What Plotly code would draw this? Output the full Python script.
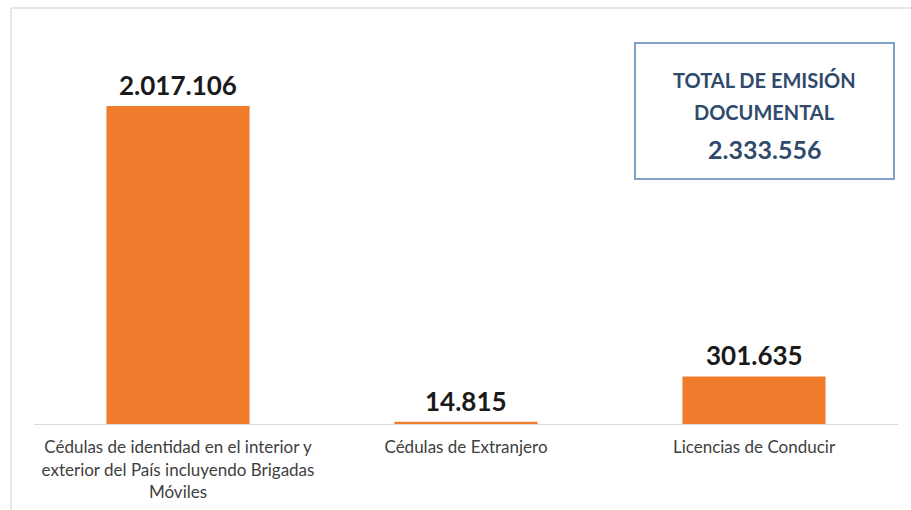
import plotly.graph_objects as go

categories = [
    "Cédulas de identidad en el interior y exterior del País incluyendo Brigadas Móviles",
    "Cédulas de Extranjero",
    "Licencias de Conducir",
]
tick_labels = [
    "Cédulas de identidad en el interior y<br>exterior del País incluyendo Brigadas<br>Móviles",
    "Cédulas de Extranjero",
    "Licencias de Conducir",
]
values = [2017106, 14815, 301635]
total_title = ["TOTAL DE EMISIÓN", "DOCUMENTAL"]
total_value = 2333556

W, H = 911, 510
L, R, T, B = 34, 13, 30, 86

def fmt(v):
    return f"{v:,}".replace(",", ".")

fig = go.Figure()
fig.add_trace(go.Bar(
    x=categories, y=values,
    marker=dict(color="#F07D2E", line=dict(width=0)),
    width=0.497,
    hoverinfo="skip",
))

for c, v in zip(categories, values):
    fig.add_annotation(
        x=c, y=v, xref="x", yref="y", text=f"<b>{fmt(v)}</b>",
        showarrow=False, yanchor="bottom", yshift=3,
        font=dict(family="Lato, Open Sans, sans-serif", size=26, color="#1a1a1a"),
    )

pw = W - L - R
ph = H - T - B
def px_x(x):
    return (x - L) / pw
def px_y(y):
    return (H - B - y) / ph

# outer faint frame
fig.add_shape(type="line", xref="paper", yref="paper",
              x0=px_x(11), x1=px_x(11), y0=px_y(510), y1=px_y(8),
              line=dict(color="#e6e6e6", width=2))
fig.add_shape(type="line", xref="paper", yref="paper",
              x0=px_x(11), x1=px_x(911), y0=px_y(8), y1=px_y(8),
              line=dict(color="#e6e6e6", width=2))

# total box
fig.add_shape(type="rect", xref="paper", yref="paper",
              x0=px_x(635), x1=px_x(894), y0=px_y(179), y1=px_y(43),
              line=dict(color="#7fa0c8", width=2), fillcolor="rgba(0,0,0,0)")
box_color = "#2f4a6b"
for txt, yy, sz in [(total_title[0], 80, 20), (total_title[1], 112, 20), (fmt(total_value), 149, 25)]:
    fig.add_annotation(x=px_x(764.5), y=px_y(yy), xref="paper", yref="paper",
                       text=f"<b>{txt}</b>", showarrow=False,
                       xanchor="center", yanchor="middle",
                       font=dict(family="Lato, Open Sans, sans-serif", size=sz, color=box_color))

fig.update_layout(
    width=W, height=H,
    margin=dict(l=L, r=R, t=T, b=B, pad=0, autoexpand=False),
    plot_bgcolor="white", paper_bgcolor="white",
    showlegend=False,
)
fig.update_xaxes(
    tickmode="array", tickvals=categories, ticktext=tick_labels,
    showline=True, linecolor="#d9d9d9", linewidth=1,
    ticks="", showgrid=False, automargin=False,
    tickfont=dict(family="Lato, Open Sans, sans-serif", size=17, color="#404040"),
    tickangle=0, ticklabelstandoff=8,
)
fig.update_yaxes(range=[0, 2500000], visible=False, showgrid=False, automargin=False)

fig.write_html("out.html", config={"displayModeBar": False},
               post_script="document.body.style.margin='0';")
